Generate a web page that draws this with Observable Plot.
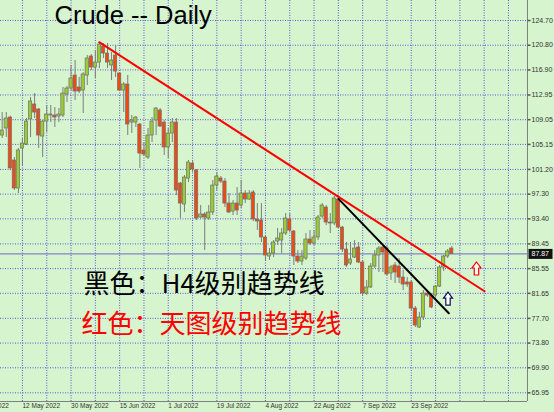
<!DOCTYPE html>
<html>
<head>
<meta charset="utf-8">
<script src="https://cdn.jsdelivr.net/npm/d3@7"></script>
<script src="https://cdn.jsdelivr.net/npm/@observablehq/plot@0.6"></script>
<style>
  html, body { margin: 0; padding: 0; background: #ffffff; }
  #chart svg { display: block; }
</style>
</head>
<body>
<div id="chart"></div>
<script>
// Daily crude oil bars (open / high / low / close), oldest first
const barOpen = [
  106.55,107.66,109.39,102.61,98.19,104.50,105.13,109.08,111.45,110.66,
  106.39,108.76,109.71,109.71,109.55,109.71,113.02,113.97,116.02,114.13,
  113.65,116.02,119.02,117.28,118.07,120.60,119.49,117.60,119.18,116.34,
  113.65,114.60,108.60,108.60,108.29,104.19,103.08,106.55,108.92,110.50,
  108.60,104.66,106.87,108.60,98.98,95.66,99.76,102.13,101.03,93.61,
  94.09,93.46,94.40,98.66,99.77,99.29,95.82,94.56,95.82,95.51,
  97.40,96.45,97.56,93.30,93.14,90.46,87.46,87.93,89.83,89.98,
  91.09,93.30,91.41,87.46,86.67,87.14,90.14,89.51,90.46,93.77,
  95.19,92.82,92.67,96.45,92.03,88.56,86.35,87.30,88.88,86.51,
  81.62,82.57,85.88,87.62,88.88,88.72,84.78,86.04,85.88,84.14,
  83.36,83.36,79.25,76.25,77.83,81.62,81.30,81.30,82.72,85.72,
  87.46,88.72
];
const barHigh = [
  110.18,110.18,109.60,103.08,104.50,106.08,109.24,112.55,113.18,110.81,
  108.92,111.29,111.29,110.97,110.81,114.13,114.29,117.60,118.39,115.71,
  116.49,119.18,119.33,119.97,121.23,121.07,121.07,119.65,120.75,116.49,
  114.92,116.02,109.71,109.55,108.45,105.45,107.66,109.39,110.97,110.81,
  108.92,107.66,109.24,109.24,99.13,100.24,102.61,102.61,101.19,95.51,
  94.40,95.51,99.45,100.71,100.08,99.77,97.40,96.30,98.35,99.45,
  97.87,97.87,97.87,95.82,95.82,90.77,88.72,89.98,91.88,91.88,
  94.24,94.24,91.56,88.41,88.41,91.09,91.56,91.56,93.93,95.82,
  95.51,94.24,96.93,97.08,92.20,89.67,89.67,89.98,89.67,86.83,
  83.67,86.35,88.41,89.04,89.20,89.04,86.04,86.51,87.14,85.25,
  84.14,83.67,79.57,78.62,82.09,82.09,81.62,82.88,86.04,87.62,
  88.56,89.04
];
const barLow = [
  106.08,106.24,101.00,97.87,97.40,101.82,104.97,106.24,109.24,104.50,
  103.08,107.03,108.60,107.82,108.60,109.39,111.76,113.65,112.08,113.18,
  110.02,114.44,116.81,115.55,117.12,118.70,117.12,115.23,115.71,113.50,
  110.18,106.55,106.87,107.82,101.35,103.24,102.77,105.45,106.55,107.82,
  103.40,102.92,105.45,97.08,93.46,94.40,99.13,100.71,93.14,93.46,
  88.41,93.14,93.93,97.87,98.98,95.19,94.24,93.93,93.93,95.03,
  95.82,96.30,92.98,91.56,89.67,86.83,86.83,87.30,89.20,87.93,
  90.77,91.25,86.04,86.35,86.04,86.83,89.20,89.20,89.98,93.46,
  92.35,91.09,92.35,91.88,88.09,85.72,86.04,87.14,86.35,81.30,
  81.30,82.41,85.56,84.93,84.93,84.46,83.67,83.20,83.20,82.09,
  82.57,78.94,76.25,76.10,77.36,81.00,79.25,81.00,82.57,85.10,
  87.14,87.78
];
const barClose = [
  107.34,109.24,101.35,98.19,104.19,105.29,108.76,111.92,110.18,106.55,
  108.76,109.87,109.87,109.39,109.87,113.18,113.97,115.55,113.50,113.50,
  116.18,118.70,117.28,118.07,120.91,119.49,118.07,118.39,116.65,113.65,
  114.60,108.29,108.92,109.39,103.71,103.55,106.55,108.76,110.81,107.97,
  104.66,106.87,108.60,97.87,95.82,99.92,102.29,101.19,93.46,94.09,
  93.61,94.40,98.66,100.08,99.29,95.82,94.40,95.82,94.72,97.40,
  96.45,97.40,93.30,92.98,90.46,87.62,87.93,89.67,90.30,91.09,
  93.46,91.56,87.46,86.67,87.46,90.14,89.51,90.46,93.61,95.51,
  92.82,92.67,96.61,92.03,88.56,86.04,86.99,88.72,86.51,81.62,
  82.57,85.88,87.62,88.72,88.09,84.62,85.72,84.93,84.14,83.04,
  83.04,79.25,76.57,77.83,81.62,81.30,79.41,82.72,85.72,87.46,
  88.25,87.87
];

// Price scale labels and date labels (bar index of each date label)
const priceTicks = [124.70,120.80,116.90,112.95,109.05,105.15,101.20,97.30,93.40,89.45,85.55,81.65,77.70,73.80,69.90,65.95];
const dateLabels = ["22 Apr 2022","12 May 2022","30 May 2022","15 Jun 2022","1 Jul 2022","19 Jul 2022","4 Aug 2022","22 Aug 2022","7 Sep 2022","23 Sep 2022"];
const dateLabelBars = [-7,5,17,29,41,53,65,77,89,101];
const gridBars = [5,11,17,23,29,35,41,47,53,59,65,71,77,83,89,95,101,107,113,119,125];
const lastPrice = 87.87;

// Trend lines drawn on the chart: daily (red) and H4 (black)
const dailyTrend = [{bar: 23.95, price: 121.28}, {bar: 119.09, price: 81.98}];
const h4Trend = [{bar: 83.04, price: 96.56}, {bar: 110.27, price: 78.51}];
const breakoutArrows = [
  {bar: 117.1, price: 85.57, color: "#ff0000"},
  {bar: 110.07, price: 80.83, color: "#10105a"}
];

const bars = barOpen.map((o, i) => ({
  bar: i, open: o, high: barHigh[i], low: barLow[i], close: barClose[i],
  up: barClose[i] >= o
}));

const xDomain = [-0.42, 129.7];
const yDomain = [64.58, 127.86];

// hollow up-arrow glyph
const upArrow = {
  draw(ctx) {
    ctx.moveTo(0, -6.5);
    ctx.lineTo(4.5, -0.5);
    ctx.lineTo(2.2, -0.5);
    ctx.lineTo(2.2, 6.5);
    ctx.lineTo(-2.2, 6.5);
    ctx.lineTo(-2.2, -0.5);
    ctx.lineTo(-4.5, -0.5);
    ctx.closePath();
  }
};
// short tick to the right of the price axis
const scaleTick = {
  draw(ctx) { ctx.moveTo(0, 0); ctx.lineTo(3, 0); }
};
// box behind the last-price label on the price scale
const priceBox = {
  draw(ctx) { ctx.rect(1, -5, 24, 10); }
};

const gridColor = "#5a5ad8";
const gridStyle = {stroke: gridColor, strokeWidth: 1, strokeDasharray: "1,1.5", strokeLinecap: "butt"};
const axisFont = "Liberation Sans, Arial, sans-serif";
const cjkFont = "'Noto Sans CJK SC', sans-serif";

const chart = Plot.plot({
  width: 554,
  height: 412,
  marginTop: 0,
  marginLeft: 0,
  marginRight: 27,
  marginBottom: 11,
  x: {domain: xDomain, axis: null},
  y: {domain: yDomain, axis: null},
  style: {background: "#d6f4cd", fontFamily: axisFont},
  marks: [
    // dotted grid
    Plot.ruleY(priceTicks, gridStyle),
    Plot.ruleX(gridBars, gridStyle),
    // last price line
    Plot.ruleY([lastPrice], {stroke: "#6a6ac8", strokeWidth: 1}),
    // candle wicks
    Plot.ruleX(bars, {x: "bar", y1: "low", y2: "high", stroke: "#7d7d7d", strokeWidth: 1}),
    // candle bodies
    Plot.rect(bars, {
      x1: d => d.bar - 0.4, x2: d => d.bar + 0.4,
      y1: "open", y2: "close",
      fill: d => d.up ? "#9acd32" : "#f04a14",
      stroke: "#6e6e6e", strokeWidth: 0.7
    }),
    // trend lines
    Plot.line(dailyTrend, {x: "bar", y: "price", stroke: "#ff0000", strokeWidth: 2}),
    Plot.line(h4Trend, {x: "bar", y: "price", stroke: "#000000", strokeWidth: 2}),
    // breakout arrows
    Plot.dot(breakoutArrows, {x: "bar", y: "price", symbol: upArrow, fill: "#ffffff", stroke: "color", strokeWidth: 1.2}),
    // axis lines
    Plot.ruleY([yDomain[0]], {stroke: "#808080"}),
    Plot.ruleX([xDomain[1]], {stroke: "#808080"}),
    // price scale
    Plot.dot(priceTicks, {y: d => d, frameAnchor: "right", symbol: scaleTick, stroke: "#555555", fill: "none"}),
    Plot.text(priceTicks, {
      y: d => d, text: d => d.toFixed(2), frameAnchor: "right", dx: 4,
      textAnchor: "start", fontSize: 7, fill: "#333333"
    }),
    Plot.dot([lastPrice], {y: d => d, frameAnchor: "right", symbol: priceBox, fill: "#111111", stroke: "none"}),
    Plot.text([lastPrice], {
      y: d => d, text: d => d.toFixed(2), frameAnchor: "right", dx: 4,
      textAnchor: "start", fontSize: 7, fill: "#ffffff"
    }),
    // date scale
    Plot.text(dateLabels, {
      x: (d, i) => dateLabelBars[i], text: d => d, frameAnchor: "bottom", dy: 6,
      textAnchor: "start", fontSize: 6.5, fill: "#333333"
    }),
    // title and legend notes
    Plot.text(["Crude -- Daily"], {
      frameAnchor: "top-left", dx: 54, dy: 5, lineAnchor: "top", textAnchor: "start",
      fontSize: 25.5, fill: "#000000", fontFamily: "Liberation Sans, Arial, sans-serif"
    }),
    Plot.text(["黑色：H4级别趋势线"], {
      frameAnchor: "top-left", dx: 83, dy: 274, lineAnchor: "top", textAnchor: "start",
      fontSize: 26, fill: "#000000", fontFamily: cjkFont
    }),
    Plot.text(["红色：天图级别趋势线"], {
      frameAnchor: "top-left", dx: 81, dy: 314, lineAnchor: "top", textAnchor: "start",
      fontSize: 26, fill: "#ff0000", fontFamily: cjkFont
    })
  ]
});

document.getElementById("chart").appendChild(chart);
</script>
</body>
</html>
